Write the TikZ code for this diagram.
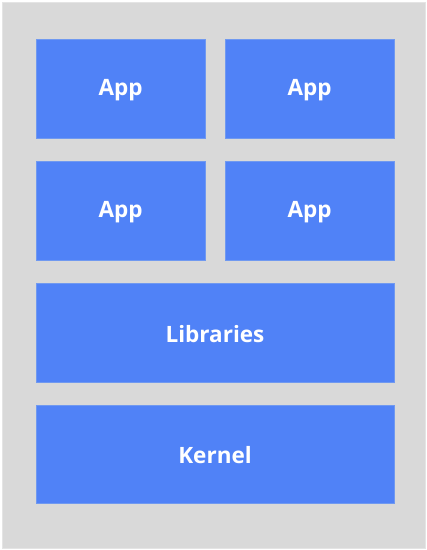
\documentclass[tikz,border=0pt]{standalone}
\usepackage{fontspec}
\setmainfont{Open Sans}
\definecolor{bg}{HTML}{D9D9D9}
\definecolor{bgedge}{HTML}{E4E4E4}
\definecolor{boxblue}{HTML}{5082F7}
\definecolor{boxedge}{HTML}{7099F0}
\begin{document}
\begin{tikzpicture}[x=1pt,y=-1pt,
  layer/.style={fill=boxblue,draw=boxedge,line width=0.6pt},
  lbl/.style={text=white,font=\bfseries\fontsize{22.5}{26}\selectfont,yshift=-1.5pt}]
\useasboundingbox (0,0) rectangle (427,550);
\fill[white] (0,0) rectangle (427,550);
\draw[fill=bg,draw=bgedge,line width=1pt] (2,2) rectangle (425,548);
\draw[layer] (36,39) rectangle (205,138) node[lbl,midway] (app1) {App};
\draw[layer] (225,39) rectangle (394,138) node[lbl,midway] (app2) {App};
\draw[layer] (36,161) rectangle (205,260) node[lbl,midway] (app3) {App};
\draw[layer] (225,161) rectangle (394,260) node[lbl,midway] (app4) {App};
\draw[layer] (36,283) rectangle (394,382) node[lbl,midway] (libs) {Libraries};
\draw[layer] (36,405) rectangle (394,503) node[lbl,midway] (kernel) {Kernel};
\end{tikzpicture}
\end{document}
